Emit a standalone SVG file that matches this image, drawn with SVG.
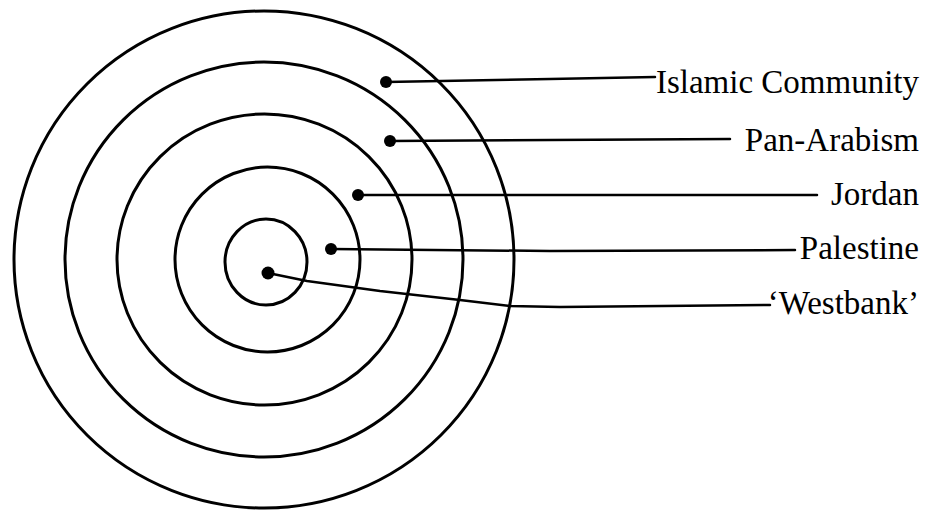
<svg xmlns="http://www.w3.org/2000/svg" width="933" height="511" viewBox="0 0 933 511">
<style>
.ring{fill:none;stroke:#000;stroke-width:3}
.dot{fill:#000}
.conn{fill:none;stroke:#000;stroke-width:2.5;stroke-linejoin:round;stroke-linecap:round}
.lbl{font-family:"Liberation Serif","Times New Roman",serif;font-size:33px;fill:#000;text-anchor:end}
</style>
<rect width="933" height="511" fill="#fff"/>
<g id="rings">
<ellipse id="ring-islamic" class="ring" cx="264" cy="259.5" rx="250" ry="248.5"/>
<ellipse id="ring-panarab" class="ring" cx="264" cy="259.5" rx="199" ry="197.5"/>
<ellipse id="ring-jordan" class="ring" cx="264.5" cy="259.5" rx="147.5" ry="145.5"/>
<ellipse id="ring-palestine" class="ring" cx="267.5" cy="259.5" rx="92.5" ry="92.5"/>
<ellipse id="ring-westbank" class="ring" cx="266" cy="262" rx="41" ry="43"/>
</g>
<g id="connectors">
<path class="conn" d="M386,82 L550,79 L655,77"/>
<path class="conn" d="M390,141 L550,140 L730,139"/>
<path class="conn" d="M358,195 L550,195 L817,195"/>
<path class="conn" d="M331,249 L550,251 L795,250"/>
<path class="conn" d="M268,273 L307,281 L380,291 L460,300 L510,306 L560,307 L770,305"/>
</g>
<g id="islamic-community">
<circle class="dot" cx="386" cy="82" r="6"/>
<text class="lbl" x="919" y="93">Islamic Community</text>
</g>
<g id="pan-arabism">
<circle class="dot" cx="390" cy="141" r="6"/>
<text class="lbl" x="919" y="151">Pan-Arabism</text>
</g>
<g id="jordan">
<circle class="dot" cx="358" cy="195" r="6"/>
<text class="lbl" x="919" y="205">Jordan</text>
</g>
<g id="palestine">
<circle class="dot" cx="331" cy="249" r="6"/>
<text class="lbl" x="919" y="259">Palestine</text>
</g>
<g id="westbank">
<circle class="dot" cx="268" cy="273" r="6.5"/>
<text class="lbl" x="919" y="314">‘Westbank’</text>
</g>
</svg>
